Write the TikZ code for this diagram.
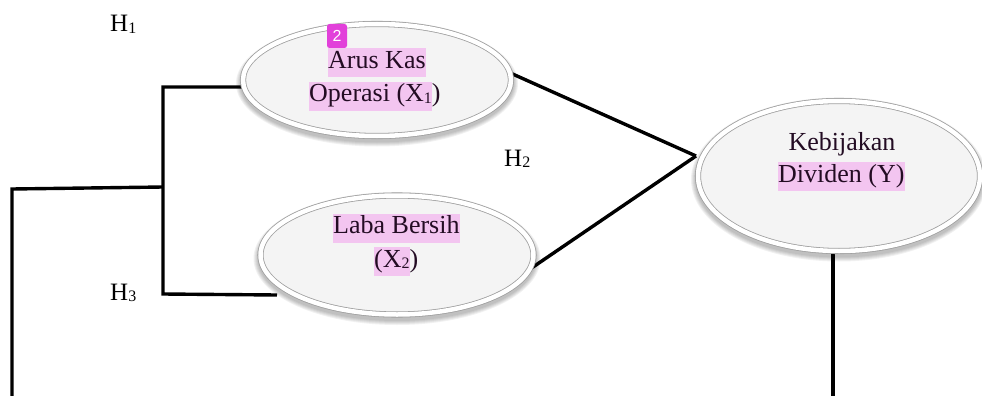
\documentclass[tikz,border=0pt]{standalone}
\usepackage{fontspec}
\setmainfont{Liberation Serif}
\newfontfamily\badgefont{Liberation Sans}
\usetikzlibrary{shapes.geometric,backgrounds}
\definecolor{hlpink}{RGB}{243,197,240}
\definecolor{badgemag}{RGB}{226,64,218}
\definecolor{ellfill}{RGB}{244,244,244}
\definecolor{txtdark}{RGB}{35,12,35}
\newcommand{\hl}[1]{{\fboxsep=0pt\colorbox{hlpink}{\strut #1}}}
\newcommand{\subnum}[1]{\raisebox{-1.5pt}{\fontsize{16}{16}\selectfont #1}}
\tikzset{
  ellnode/.style={ellipse, draw=gray!75, line width=0.8pt, double=white, double distance=4.5pt,
    fill=ellfill, inner sep=0pt},
  conn/.style={line width=3.4pt, black},
  lbl/.style={inner sep=0pt, font=\fontsize{26}{29}\selectfont, text=txtdark},
  hlab/.style={inner sep=0pt, anchor=base west, font=\fontsize{25}{29}\selectfont},
  shadowfill/.style={fill=black, opacity=0.055}
}
\begin{document}
\begin{tikzpicture}[x=1pt,y=-1pt]
\useasboundingbox (0,0) rectangle (982,396);
% ellipses
\node[ellnode, minimum width=268pt, minimum height=112pt] (e1) at (377,80) {};
\node[ellnode, minimum width=273pt, minimum height=119pt] (e2) at (397,255) {};
\node[ellnode, minimum width=282pt, minimum height=150pt] (e3) at (839,176) {};
% texts
\node[lbl, anchor=west] (t1a) at (328,62.5) {\hl{Arus Kas}};
\node[lbl, anchor=west] (t1b) at (309,96) {\hl{Operasi (X\subnum{1}})};
\node[lbl, anchor=west] (t2a) at (333,228) {\hl{Laba Bersih}};
\node[lbl, anchor=west] (t2b) at (374,261.5) {\hl{(X\subnum{2}})};
\node[lbl, anchor=base] (t3a) at (842,150) {\strut Kebijakan};
\node[lbl, anchor=west] (t3b) at (778,176.5) {\hl{Dividen (Y)}};
% badge
\node[fill=badgemag, rounded corners=2.5pt, minimum width=20pt, minimum height=24pt, inner sep=0pt,
  text=white, font=\badgefont\fontsize{16}{16}\selectfont] (badge) at (337,36) {2};
% H labels
\node[hlab] (h1) at (110,32) {H\subnum{1}};
\node[hlab] (h2) at (504,166) {H\subnum{2}};
\node[hlab] (h3) at (110,300) {H\subnum{3}};
% connector coordinates
\coordinate (p1) at (163,87);
\coordinate (p2) at (163,294);
\coordinate (p3) at (277,295);
\coordinate (j) at (163,187);
\coordinate (q1) at (12,189);
\coordinate (q2) at (12,396);
\coordinate (r1) at (833,396);
\coordinate (m) at (696,156);
\begin{pgfonlayer}{background}
% soft shadows
\foreach \k in {0,1,2,3,4} {
  \fill[shadowfill] ([yshift=-3.5pt]e1.center) ellipse [x radius={137+\k}, y radius={59+\k}];
  \fill[shadowfill] ([yshift=-3.5pt]e2.center) ellipse [x radius={139.5+\k}, y radius={62.5+\k}];
  \fill[shadowfill] ([yshift=-3.5pt]e3.center) ellipse [x radius={144+\k}, y radius={78+\k}];
}
\draw[conn, line join=miter] (e1.183) -- (p1) -- (p2) -- (p3);
\draw[conn, line join=miter] (j) -- (q1) -- (q2);
\draw[conn] (e1.3) -- (m);
\draw[conn] (e2.-6) -- (m);
\draw[conn] (r1 |- e3.south) -- (r1);
\end{pgfonlayer}
\end{tikzpicture}
\end{document}
